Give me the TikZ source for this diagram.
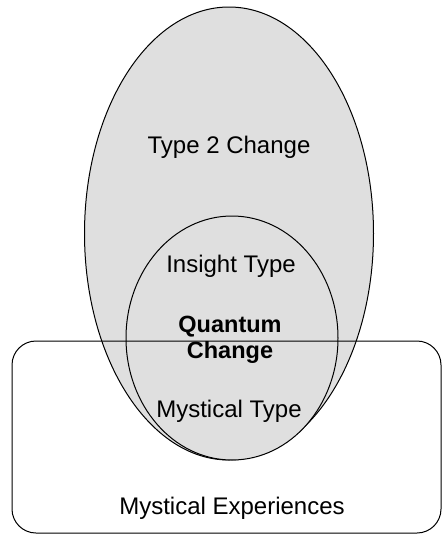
\documentclass[tikz,border=0pt]{standalone}
\usepackage{fontspec}
\setmainfont{Liberation Sans}
\begin{document}
\begin{tikzpicture}[x=1pt,y=-1pt,
  region/.style={draw=black,line width=1pt,fill=black!12.5},
  frame/.style={draw=black,line width=1pt,rounded corners=24pt},
  caption/.style={font=\fontsize{24}{27}\selectfont,inner sep=0pt},
  boldcap/.style={font=\fontsize{23.5}{26.5}\selectfont\bfseries,align=center,inner sep=0pt}]
  \useasboundingbox (0,0) rectangle (442,536);
  % Type 2 change (outer) and insight/mystical type (inner) regions
  \path[region] (229,233.5) ellipse [x radius=144.5pt, y radius=226.5pt];
  \path[region] (232,338) ellipse [x radius=106pt, y radius=122pt];
  % frame of mystical experiences
  \draw[frame] (12,341) rectangle (441,533);
  % labels
  \node[caption] (t2) at (229,147) {Type 2 Change};
  \node[caption] (ins) at (231,266) {Insight Type};
  \node[boldcap] (qc) at (230,340) {Quantum\\Change};
  \node[caption] (myst) at (229,411) {Mystical Type};
  \node[caption] (mexp) at (232,508) {Mystical Experiences};
\end{tikzpicture}
\end{document}
